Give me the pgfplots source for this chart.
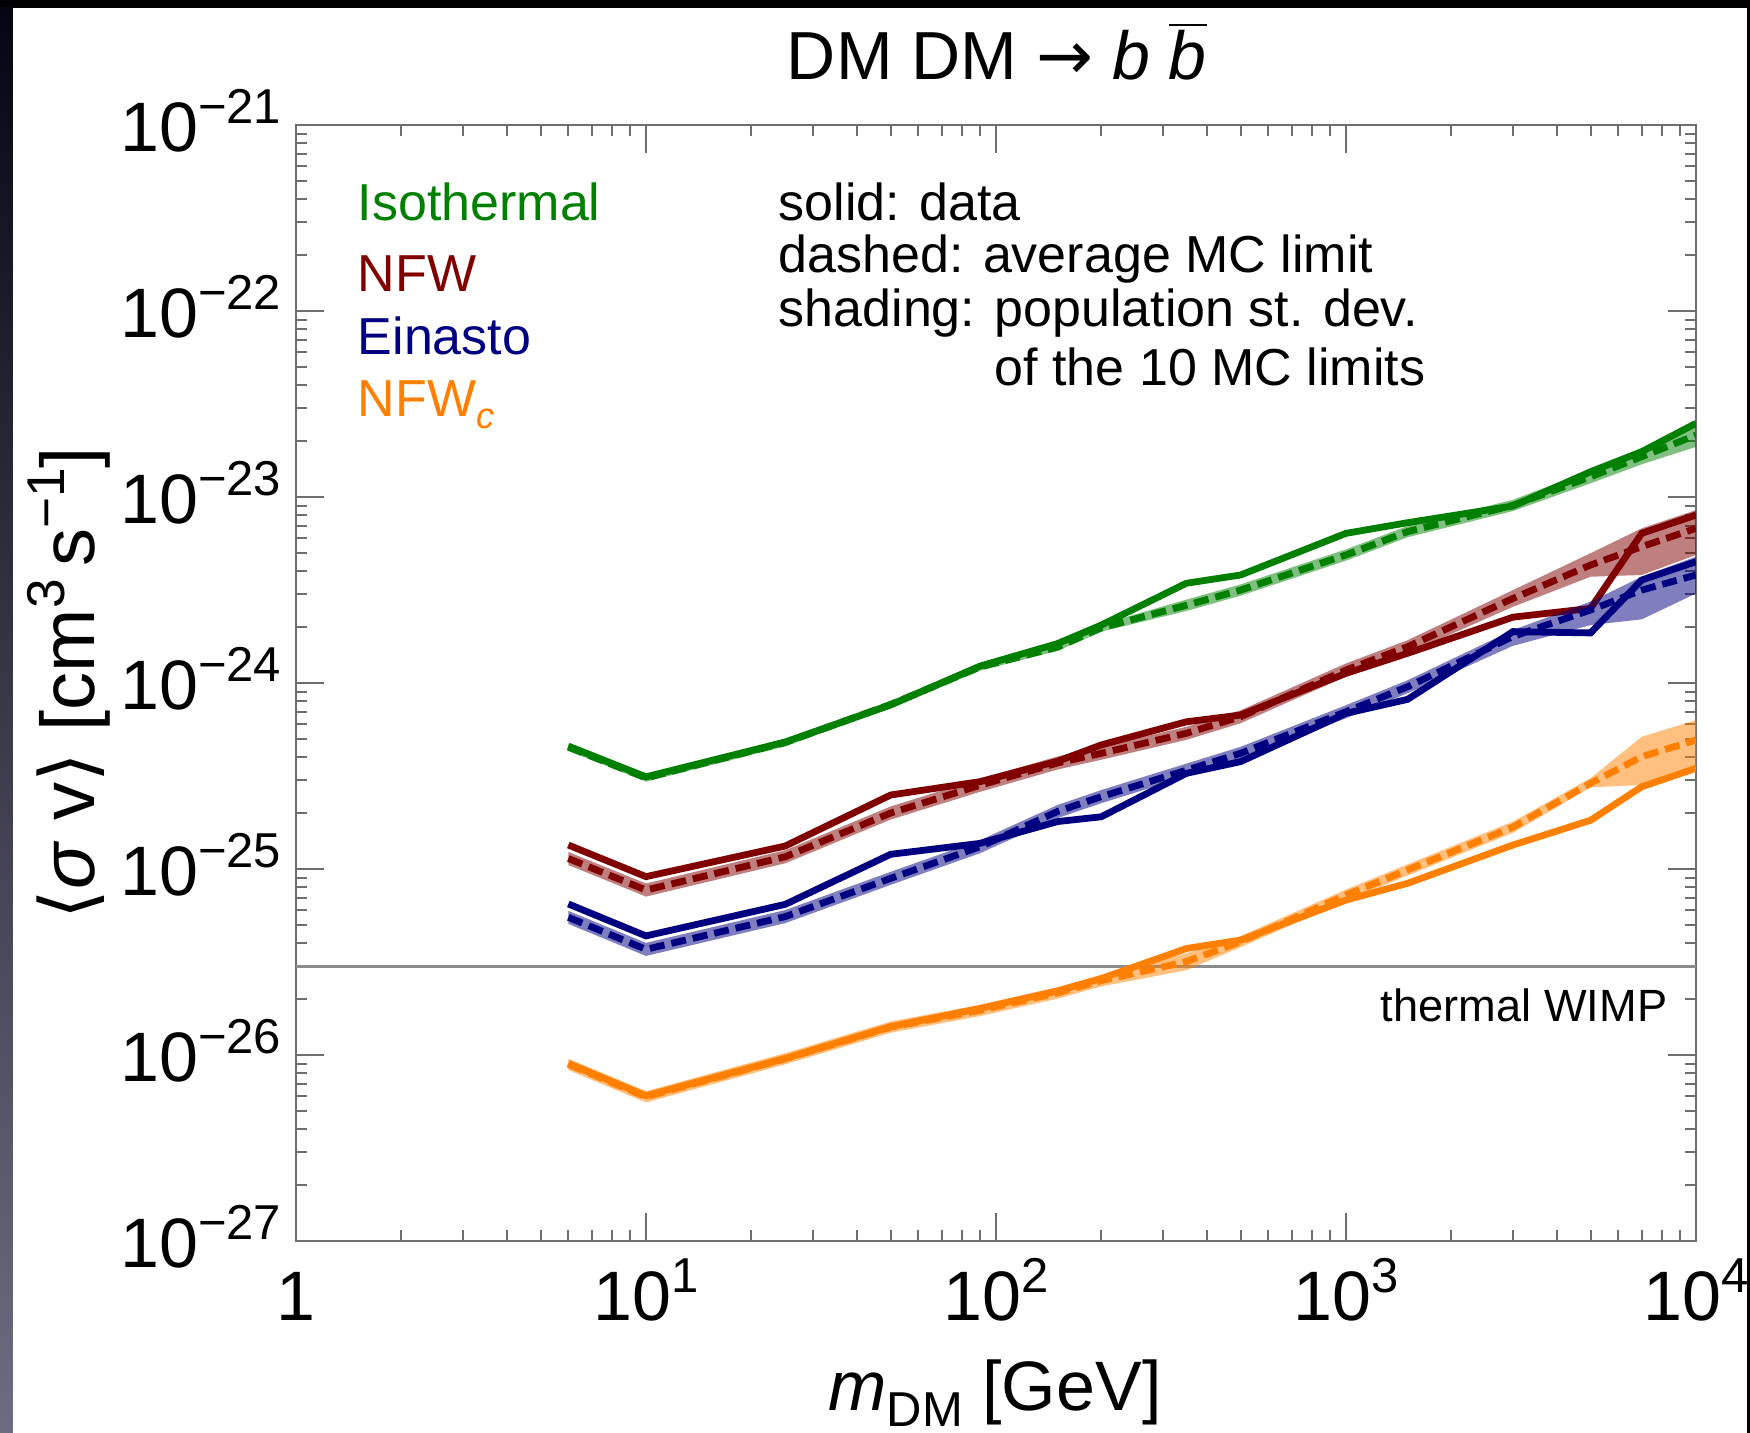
\documentclass[border=0pt]{standalone}
\usepackage{fontspec}
\setmainfont{Liberation Sans}
\newfontfamily\dejavu{DejaVu Sans}
\usepackage{graphicx}
\usepackage{pgfplots}
\pgfplotsset{compat=1.18}
\usepackage{pgfplotstable}

\definecolor{cIso}{RGB}{0,128,0}
\definecolor{cNFW}{RGB}{128,0,0}
\definecolor{cEin}{RGB}{0,0,128}
\definecolor{cNFWc}{RGB}{255,128,0}
\definecolor{axgray}{RGB}{110,110,110}
\definecolor{wimpgray}{RGB}{140,140,140}

\newcommand\sups[1]{\raisebox{0.4em}{\scalebox{0.7}{#1}}}
\newcommand\subs[1]{\raisebox{-0.22em}{\scalebox{0.7}{#1}}}
\newcommand\tenp[1]{10\sups{−#1}}

% columns: mass, data limit, average MC limit
\pgfplotstableread{
m data mc
6 4.58e-25 4.52e-25
10 3.13e-25 3.09e-25
25 4.82e-25 4.79e-25
50 7.62e-25 7.67e-25
90 1.233e-24 1.22e-24
150 1.63e-24 1.56e-24
200 2.05e-24 1.98e-24
350 3.44e-24 2.62e-24
500 3.81e-24 3.16e-24
1000 6.38e-24 4.88e-24
1500 7.28e-24 6.52e-24
3000 8.95e-24 9.02e-24
5000 1.368e-23 1.285e-23
7000 1.754e-23 1.648e-23
10000 2.49e-23 2.15e-23
}\iso
% band outline: upper edge (ascending mass), then lower edge (descending)
\pgfplotstableread{
m y
6 4.73e-25
10 3.24e-25
25 5.02e-25
50 8.03e-25
90 1.277e-24
150 1.63e-24
200 2.07e-24
350 2.81e-24
500 3.39e-24
1000 5.23e-24
1500 6.99e-24
3000 9.67e-24
5000 1.393e-23
7000 1.81e-23
10000 2.59e-23
10000 1.86e-23
7000 1.50e-23
5000 1.185e-23
3000 8.41e-24
1500 6.08e-24
1000 4.55e-24
500 2.95e-24
350 2.44e-24
200 1.89e-24
150 1.49e-24
90 1.165e-24
50 7.33e-25
25 4.57e-25
10 2.95e-25
6 4.32e-25
}\isoband

\pgfplotstableread{
m data mc
6 1.346e-25 1.14e-25
10 9.10e-26 7.71e-26
25 1.33e-25 1.164e-25
50 2.50e-25 2.0e-25
90 2.95e-25 2.82e-25
150 3.80e-25 3.72e-25
200 4.65e-25 4.19e-25
350 6.19e-25 5.37e-25
500 6.73e-25 6.59e-25
1000 1.127e-24 1.175e-24
1500 1.445e-24 1.567e-24
3000 2.26e-24 2.85e-24
5000 2.52e-24 4.31e-24
7000 6.38e-24 5.41e-24
10000 8.0e-24 6.79e-24
}\nfw
\pgfplotstableread{
m y
6 1.236e-25
10 8.36e-26
25 1.262e-25
50 2.17e-25
90 3.06e-25
150 4.03e-25
200 4.54e-25
350 5.82e-25
500 7.14e-25
1000 1.274e-24
1500 1.70e-24
3000 3.16e-24
5000 4.99e-24
7000 6.79e-24
10000 8.51e-24
10000 4.88e-24
7000 3.81e-24
5000 3.73e-24
3000 2.57e-24
1500 1.446e-24
1000 1.084e-24
500 6.08e-25
350 4.95e-25
200 3.87e-25
150 3.43e-25
90 2.60e-25
50 1.845e-25
25 1.074e-25
10 7.11e-26
6 1.052e-25
}\nfwband

\pgfplotstableread{
m data mc
6 6.49e-26 5.50e-26
10 4.37e-26 3.70e-26
25 6.46e-26 5.55e-26
50 1.20e-25 8.91e-26
90 1.374e-25 1.318e-25
150 1.80e-25 2.04e-25
200 1.91e-25 2.45e-25
350 3.27e-25 3.40e-25
500 3.78e-25 4.19e-25
1000 6.87e-25 7.01e-25
1500 8.17e-25 9.55e-25
3000 1.89e-24 1.78e-24
5000 1.86e-24 2.47e-24
7000 3.58e-24 3.16e-24
10000 4.49e-24 3.81e-24
}\ein
\pgfplotstableread{
m y
6 5.96e-26
10 4.01e-26
25 6.02e-26
50 9.66e-26
90 1.429e-25
150 2.21e-25
200 2.66e-25
350 3.69e-25
500 4.54e-25
1000 7.60e-25
1500 1.035e-24
3000 1.93e-24
5000 2.74e-24
7000 3.73e-24
10000 4.78e-24
10000 3.03e-24
7000 2.20e-24
5000 2.05e-24
3000 1.585e-24
1500 8.81e-25
1000 6.47e-25
500 3.87e-25
350 3.14e-25
200 2.26e-25
150 1.88e-25
90 1.216e-25
50 8.22e-26
25 5.12e-26
10 3.41e-26
6 5.07e-26
}\einband

\pgfplotstableread{
m data mc
6 9.02e-27 8.91e-27
10 6.04e-27 5.96e-27
25 9.59e-27 9.55e-27
50 1.422e-26 1.413e-26
90 1.78e-26 1.738e-26
150 2.21e-26 2.16e-26
200 2.58e-26 2.51e-26
350 3.74e-26 3.18e-26
500 4.15e-26 4.07e-26
1000 6.81e-26 7.24e-26
1500 8.38e-26 9.89e-26
3000 1.346e-25 1.68e-25
5000 1.83e-25 2.89e-25
7000 2.77e-25 4.02e-25
10000 3.48e-25 4.94e-25
}\nfwc
\pgfplotstableread{
m y
6 9.55e-27
10 6.39e-27
25 1.024e-26
50 1.515e-26
90 1.86e-26
150 2.32e-26
200 2.69e-26
350 3.52e-26
500 4.36e-26
1000 7.76e-26
1500 1.06e-25
3000 1.80e-25
5000 3.08e-25
7000 5.14e-25
10000 6.32e-25
10000 3.40e-25
7000 2.83e-25
5000 2.75e-25
3000 1.567e-25
1500 9.23e-26
1000 6.75e-26
500 3.80e-26
350 2.86e-26
200 2.34e-26
150 2.01e-26
90 1.62e-26
50 1.318e-26
25 8.91e-27
10 5.56e-27
6 8.31e-27
}\nfwcband

\pgfplotsset{
  band/.style={draw=none, fill=#1, fill opacity=0.5},
  dataline/.style={#1, line width=1.7pt, line join=miter},
  mcline/.style={#1, line width=1.7pt, dash pattern=on 3.75pt off 1.75pt},
}

\begin{document}
\begin{tikzpicture}
% slide background frame
\fill[black] (0,0) rectangle (437.5pt,358.25pt);
\shade[top color={rgb,255:red,6;green,6;blue,18}, bottom color={rgb,255:red,110;green,108;blue,130}] (0,0) rectangle (3.25pt,356.25pt);
\fill[white] (3.25pt,0) rectangle (436.75pt,356.25pt);

\begin{axis}[
  at={(74pt,48pt)}, anchor=south west,
  scale only axis, width=350pt, height=279pt,
  xmode=log, ymode=log,
  xmin=1, xmax=10000, ymin=1e-27, ymax=1e-21,
  axis line style={draw=axgray, line width=0.6pt},
  tick style={draw=axgray, line width=0.5pt},
  tick align=inside,
  major tick length=7pt, minor tick length=2.7pt,
  xtick={1,10,100,1000,10000},
  xticklabels={1,10\sups{1},10\sups{2},10\sups{3},10\sups{4}},
  minor xtick={2,3,4,5,6,7,8,9,20,30,40,50,60,70,80,90,200,300,400,500,600,700,800,900,2000,3000,4000,5000,6000,7000,8000,9000},
  ytick={1e-27,1e-26,1e-25,1e-24,1e-23,1e-22,1e-21},
  yticklabels={\tenp{27},\tenp{26},\tenp{25},\tenp{24},\tenp{23},\tenp{22},\tenp{21}},
  minor ytick={2e-27,3e-27,4e-27,5e-27,6e-27,7e-27,8e-27,9e-27,
               2e-26,3e-26,4e-26,5e-26,6e-26,7e-26,8e-26,9e-26,
               2e-25,3e-25,4e-25,5e-25,6e-25,7e-25,8e-25,9e-25,
               2e-24,3e-24,4e-24,5e-24,6e-24,7e-24,8e-24,9e-24,
               2e-23,3e-23,4e-23,5e-23,6e-23,7e-23,8e-23,9e-23,
               2e-22,3e-22,4e-22,5e-22,6e-22,7e-22,8e-22,9e-22},
  ticklabel style={font=\fontsize{17.5}{20}\selectfont, inner sep=0pt, text=black},
  xticklabel style={anchor=base, yshift=-19.75pt},
  yticklabel style={anchor=base east, xshift=-3.5pt, yshift=-6.6pt},
]
% thermal WIMP
\addplot[wimpgray, line width=0.75pt] coordinates {(1,3e-26) (10000,3e-26)};

% Isothermal
\addplot[band=cIso] table[x=m,y=y]{\isoband};
\addplot[mcline=cIso] table[x=m,y=mc]{\iso};
\addplot[dataline=cIso] table[x=m,y=data]{\iso};

% NFW
\addplot[band=cNFW] table[x=m,y=y]{\nfwband};
\addplot[mcline=cNFW] table[x=m,y=mc]{\nfw};
\addplot[dataline=cNFW] table[x=m,y=data]{\nfw};

% Einasto
\addplot[band=cEin] table[x=m,y=y]{\einband};
\addplot[mcline=cEin] table[x=m,y=mc]{\ein};
\addplot[dataline=cEin] table[x=m,y=data]{\ein};

% NFW_c
\addplot[band=cNFWc] table[x=m,y=y]{\nfwcband};
\addplot[mcline=cNFWc] table[x=m,y=mc]{\nfwc};
\addplot[dataline=cNFWc] table[x=m,y=data]{\nfwc};
\end{axis}

% title
\node[anchor=base, inner sep=0pt, font=\fontsize{17}{20}\selectfont] at (249.2pt,338.25pt)
  {DM DM {\dejavu →} \textit{b} $\overline{\mbox{\itshape b}}$};
% axis labels
\node[anchor=base, inner sep=0pt, font=\fontsize{17.5}{20}\selectfont] at (248.75pt,5.5pt)
  {\textit{m}\subs{DM} [GeV]};
\node[rotate=90, anchor=center, inner sep=0pt, font=\fontsize{19}{22}\selectfont] at (17.25pt,187.5pt)
  {{\dejavu ⟨}\textit{σ} v{\dejavu ⟩} [cm\sups{3}\,s\sups{−1}]};

% profile labels
\begin{scope}[every node/.style={anchor=base west, inner sep=0pt, font=\fontsize{13}{15}\selectfont}]
\node[text=cIso]  at (89.25pt,303pt) {Isothermal};
\node[text=cNFW]  at (89.25pt,285.25pt) {NFW};
\node[text=cEin]  at (89.25pt,269.5pt) {Einasto};
\node[text=cNFWc] at (89.25pt,254pt) {NFW\subs{\textit{c}}};
\node at (194.5pt,303pt) {solid: data};
\node at (194.5pt,290.1pt) {dashed: average MC limit};
\node at (194.5pt,276.5pt) {shading: population st. dev.};
\node at (194.5pt,261.75pt) {\phantom{shading: }of the 10 MC limits};
\end{scope}
\node[anchor=base east, inner sep=0pt, font=\fontsize{11.3}{13}\selectfont] at (417pt,102.75pt) {thermal WIMP};

\pgfresetboundingbox
\path[use as bounding box] (0,0) rectangle (437.5pt,358.25pt);
\end{tikzpicture}
\end{document}
